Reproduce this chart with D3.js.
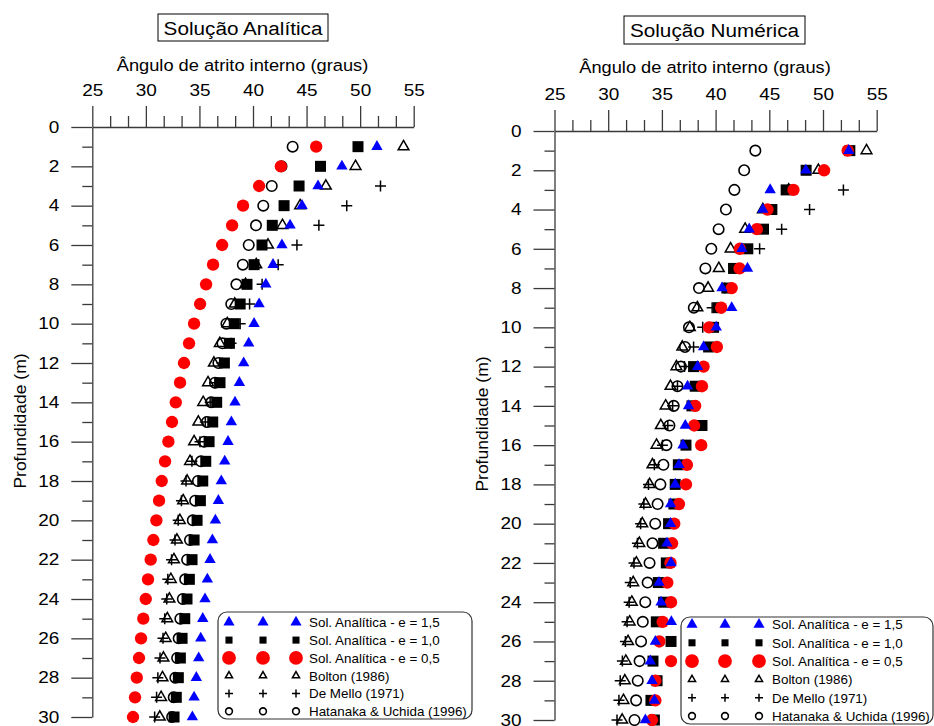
<!DOCTYPE html>
<html><head><meta charset="utf-8">
<script src="https://cdn.jsdelivr.net/npm/d3@7"></script>
<style>
body{margin:0;background:#fff}
svg{display:block}
text{font-family:"Liberation Sans",Arial,Helvetica,sans-serif;fill:#000}
</style>
</head><body>
<svg id="chart" width="934" height="726"></svg>
<script>
// ---------- data ----------
const depths = [1,2,3,4,5,6,7,8,9,10,11,12,13,14,15,16,17,18,19,20,21,22,23,24,25,26,27,28,29,30];

// reference correlations (same in both panels)
const bolton   = [54.05,49.57,46.8,44.4,42.75,41.4,40.3,39.3,38.3,37.6,36.9,36.35,35.8,35.35,34.9,34.5,34.12,33.85,33.48,33.17,32.9,32.62,32.33,32.2,32.0,31.85,31.64,31.55,31.42,31.3];
const deMello  = [null,null,51.9,48.75,46.15,44.1,42.35,40.85,39.68,38.8,37.95,37.1,36.45,36.0,35.55,35.05,34.3,33.75,33.32,33.02,32.72,32.4,32.05,31.95,31.76,31.6,31.32,31.12,31.0,30.82];
const hatanaka = [43.7,42.66,41.75,40.96,40.28,39.6,39.05,38.45,37.97,37.52,37.15,36.77,36.45,36.1,35.7,35.42,35.14,34.86,34.6,34.38,34.12,33.85,33.67,33.45,33.22,33.06,32.92,32.75,32.6,32.45];

// analytical solution (left panel)
const anaE05 = [45.9,42.6,40.57,39.07,38.05,37.12,36.27,35.62,35.06,34.5,34.03,33.56,33.19,32.79,32.44,32.1,31.79,31.48,31.23,30.98,30.7,30.45,30.2,29.99,29.76,29.55,29.36,29.15,28.99,28.8];
const anaE10 = [49.8,46.3,44.3,42.9,41.8,40.84,40.1,39.44,38.8,38.25,37.8,37.33,36.92,36.61,36.24,35.9,35.59,35.31,35.09,34.78,34.5,34.31,34.06,33.84,33.63,33.38,33.22,33.03,32.84,32.63];
const anaE15 = [51.57,48.3,46.07,44.58,43.46,42.7,41.87,41.2,40.57,40.1,39.6,39.13,38.73,38.32,37.98,37.67,37.36,37.04,36.77,36.49,36.21,35.99,35.74,35.52,35.31,35.12,34.93,34.71,34.5,34.34];

// numerical solution (right panel)
const numE05 = [52.3,50.1,47.25,44.83,43.84,42.25,42.23,41.5,40.52,39.4,40.12,38.88,38.73,38.1,38.0,38.66,37.33,37.24,36.59,36.15,35.95,35.8,35.5,35.85,35.07,34.76,35.85,34.39,34.39,34.08];
const numE10 = [52.5,48.43,46.57,45.24,44.46,43.0,41.67,41.05,40.27,39.81,39.35,37.95,38.1,37.8,38.73,37.24,36.53,36.24,36.12,35.62,35.16,35.41,34.67,35.16,34.48,35.85,34.17,34.55,33.98,34.3];
const numE15 = [52.4,48.4,45.08,44.4,43.13,42.45,42.97,40.6,41.5,40.06,38.88,38.33,37.39,37.48,37.18,36.96,36.59,36.24,35.81,35.8,35.47,35.85,34.73,34.92,35.88,34.39,33.92,34.08,34.3,33.46];

const xTicks = [25,30,35,40,45,50,55];
const yTicks = [0,2,4,6,8,10,12,14,16,18,20,22,24,26,28,30];
const yMinorTicks = [1,3,5,7,9,11,13,15,17,19,21,23,25,27,29];

const legendLabels = ["Sol. Analítica - e = 1,5","Sol. Analítica - e = 1,0","Sol. Analítica - e = 0,5","Bolton (1986)","De Mello (1971)","Hatanaka & Uchida (1996)"];
const panelTitles = ["Solução Analítica","Solução Numérica"];
const xTitle = "Ângulo de atrito interno (graus)";
const yTitle = "Profundidade (m)";

// ---------- drawing ----------
const svg = d3.select("#chart");
const AX = "#3a3a3a";
const TICK_FS = 16.5, TICK_SX = 1.15;

const plusPath = r => `M${-r},0H${r}M0,${-r}V${r}`;
const tri = a => d3.symbol(d3.symbolTriangle, a)();
const sq  = a => d3.symbol(d3.symbolSquare, a)();
const circ = a => d3.symbol(d3.symbolCircle, a)();

const styles = {
  hat:  {d: circ(86),  ld: circ(36),  fill:"none", stroke:"#000", sw:1.6},
  bol:  {d: tri(50),   ld: tri(22),   fill:"none", stroke:"#000", sw:1.5},
  mel:  {d: plusPath(5.5), ld: plusPath(4), fill:"none", stroke:"#000", sw:1.5},
  e10:  {d: sq(121),   ld: sq(50),    fill:"#000", stroke:"none", sw:0},
  e05:  {d: circ(120), ld: circ(150), fill:"#ff0000", stroke:"none", sw:0},
  e15:  {d: tri(56),   ld: tri(54),   fill:"#0000ff", stroke:"none", sw:0}
};

const panels = [
  {title:panelTitles[0], e05:anaE05, e10:anaE10, e15:anaE15,
   xr:[92.3,413.7], yr:[127,717], box:[158,14,170,27], titleCx:243, titleY:34.5,
   axTitleCx:242.5, axTitleY:71, yTitleX:26, yTitleY:421,
   leg:{x:218,y:612,w:254,h:107,row0:622.3,dy:17.8,cols:[229,263,296],tx:309}},
  {title:panelTitles[1], e05:numE05, e10:numE10, e15:numE15,
   xr:[554.5,876.7], yr:[131,720], box:[624,16,181,28], titleCx:714.5, titleY:37,
   axTitleCx:705, axTitleY:73, yTitleX:488, yTitleY:424,
   leg:{x:681,y:617,w:252,h:107,row0:624.5,dy:18.3,cols:[692,725,759],tx:772}}
];

// stretched text helper (reference font is wider than Arial)
function wideText(sel, x, y, fs, sx, str, anchor, rot) {
  const t = sel.append("text")
    .attr("transform", `translate(${x},${y})${rot ? ` rotate(${rot})` : ""} scale(${sx},1)`)
    .attr("text-anchor", anchor).style("font-size", fs + "px").text(str);
  return t;
}

panels.forEach(p => {
  const g = svg.append("g");
  const x = d3.scaleLinear().domain([25,55]).range(p.xr);
  const y = d3.scaleLinear().domain([0,30]).range(p.yr);
  const xMinor = d3.range(25, 55.001, 5/3).filter(v => Math.abs((v-25)%5) > 0.01 && Math.abs((v-25)%5-5) > 0.01);

  // title box
  g.append("rect").attr("x",p.box[0]).attr("y",p.box[1]).attr("width",p.box[2]).attr("height",p.box[3])
    .attr("fill","#fff").attr("stroke","#000").attr("stroke-width",1);
  wideText(g, p.titleCx, p.titleY, 19, 1.09, p.title, "middle");
  wideText(g, p.axTitleCx, p.axTitleY, 17, 1.075, xTitle, "middle");
  wideText(g, p.yTitleX, p.yTitleY, 17, 1.03, yTitle, "middle", -90);

  // x axis (top)
  const gxm = g.append("g").attr("transform",`translate(0,${p.yr[0]})`)
    .call(d3.axisTop(x).tickValues(xMinor).tickSize(11).tickSizeOuter(0).tickFormat(""));
  gxm.select(".domain").remove();
  const gx = g.append("g").attr("transform",`translate(0,${p.yr[0]})`)
    .call(d3.axisTop(x).tickValues(xTicks).tickSize(21).tickSizeOuter(0).tickPadding(10));
  // y axis (left)
  const gym = g.append("g").attr("transform",`translate(${p.xr[0]},0)`)
    .call(d3.axisLeft(y).tickValues(yMinorTicks).tickSize(10).tickSizeOuter(0).tickFormat(""));
  gym.select(".domain").remove();
  const gy = g.append("g").attr("transform",`translate(${p.xr[0]},0)`)
    .call(d3.axisLeft(y).tickValues(yTicks).tickSize(21).tickSizeOuter(0).tickPadding(12));

  [gxm,gx,gym,gy].forEach(a => {
    a.selectAll("line").attr("stroke",AX).attr("stroke-width",1.3);
    a.selectAll(".domain").attr("stroke",AX).attr("stroke-width",1.3);
    a.selectAll("text").style("font-size",TICK_FS+"px")
      .style("font-family","'Liberation Sans',Arial,sans-serif").attr("fill","#000");
  });
  // widen tick labels
  gx.selectAll(".tick text").attr("transform",`scale(${TICK_SX},1)`);
  gy.selectAll(".tick text").each(function(){
    const t = d3.select(this);
    const x0 = +t.attr("x");
    t.attr("x", x0 / TICK_SX).attr("transform",`scale(${TICK_SX},1)`);
  });

  // markers
  const order = [["hat",hatanaka],["bol",bolton],["mel",deMello],["e10",p.e10],["e05",p.e05],["e15",p.e15]];
  order.forEach(([k,arr]) => {
    const s = styles[k];
    const pts = depths.map((d,i) => ({d, v:arr[i]})).filter(o => o.v != null);
    g.append("g").selectAll("path").data(pts).join("path")
      .attr("transform", o => `translate(${x(o.v)},${y(o.d)})`)
      .attr("d", s.d).attr("fill", s.fill).attr("stroke", s.stroke).attr("stroke-width", s.sw);
  });

  // legend
  const L = p.leg;
  const lg = g.append("g");
  lg.append("rect").attr("x",L.x).attr("y",L.y).attr("width",L.w).attr("height",L.h)
    .attr("rx",9).attr("ry",9).attr("fill","#fff").attr("stroke","#333").attr("stroke-width",1.2);
  const legKeys = ["e15","e10","e05","bol","mel","hat"];
  legKeys.forEach((k,i) => {
    const s = styles[k];
    const cy = L.row0 + i*L.dy;
    L.cols.forEach(cx => {
      lg.append("path").attr("transform",`translate(${cx},${cy})`).attr("d", s.ld)
        .attr("fill", s.fill).attr("stroke", s.stroke).attr("stroke-width", s.sw);
    });
    lg.append("text").attr("x",L.tx).attr("y",cy).attr("dy","0.36em")
      .style("font-size","13.4px").text(legendLabels[i]);
  });
});
</script>
</body></html>
